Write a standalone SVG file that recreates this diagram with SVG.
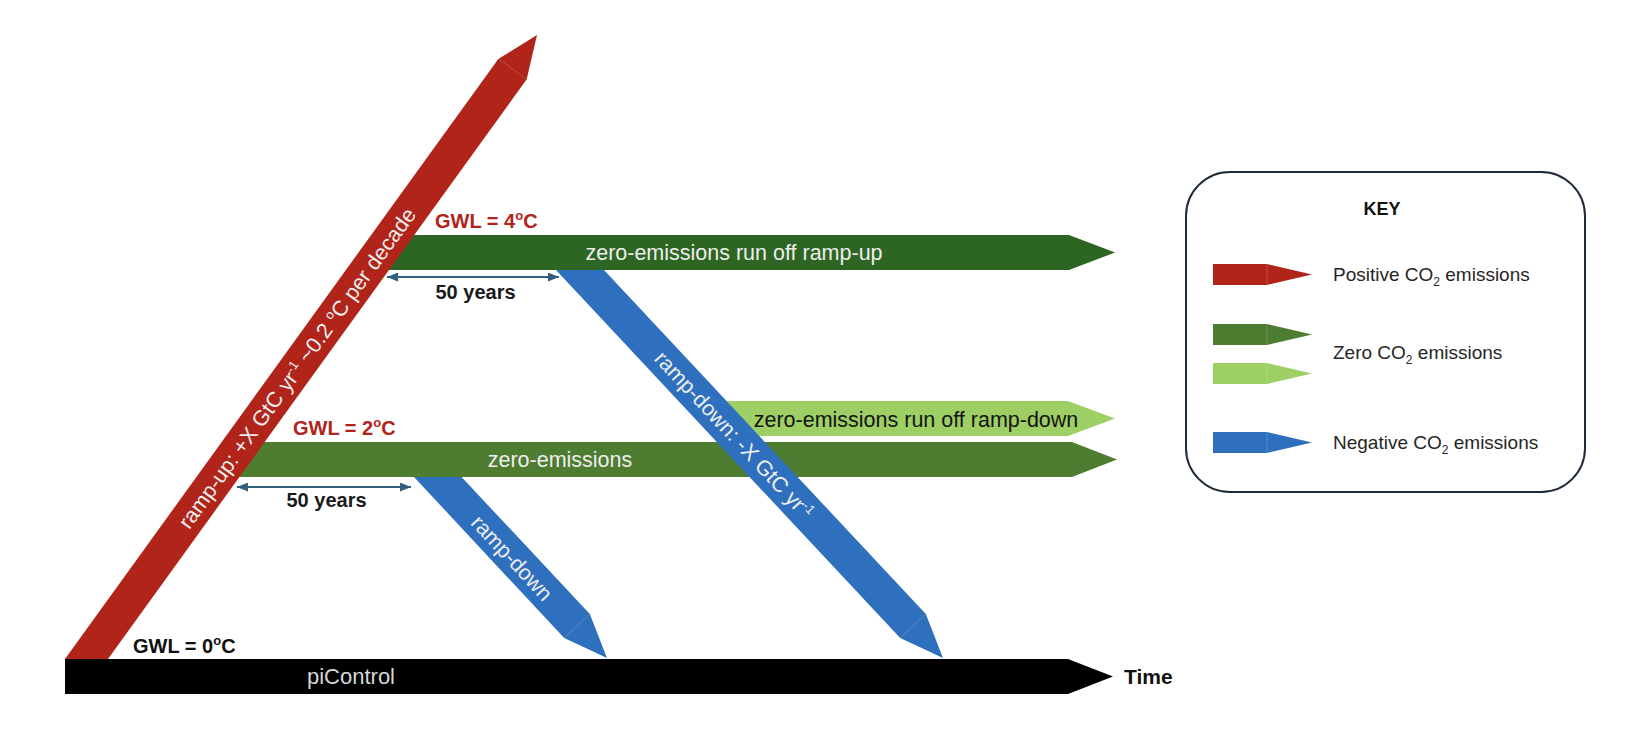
<svg xmlns="http://www.w3.org/2000/svg" width="1632" height="734" viewBox="0 0 1632 734">
<defs>
<style>
text{font-family:"Liberation Sans",Arial,sans-serif;}
.bar{font-size:21.5px;fill:#EDEDED;}
.gwl{font-size:20px;font-weight:bold;}
.red{fill:#B0241A;}
.yrs{font-size:20px;font-weight:bold;fill:#1A1A1A;}
.key{font-size:19px;fill:#262626;}
.seam{stroke:#FFFFFF;stroke-opacity:0.18;stroke-width:1;}
.dim{stroke:#31607F;stroke-width:2;fill:none;marker-start:url(#ah);marker-end:url(#ah);}
</style>
<marker id="ah" markerUnits="userSpaceOnUse" markerWidth="11" markerHeight="9" refX="11" refY="4.5" orient="auto-start-reverse">
<path d="M0,0 L11,4.5 L0,9 z" fill="#31607F"/>
</marker>
</defs>
<rect width="1632" height="734" fill="#FFFFFF"/>

<g id="piControl">
<polygon points="65,659 1068,659 1113,676.5 1068,694 65,694" fill="#000000"/>
<text class="bar" x="351" y="684" text-anchor="middle" style="fill:#D6D6D6;font-size:22px">piControl</text>
</g>

<g id="ramp-down-short">
<polygon points="407.5,470 455,470 589.8,614 607,658 564.2,638" fill="#2F70BE"/>
<line class="seam" x1="564.2" y1="638" x2="589.8" y2="614"/>
<text class="bar" transform="translate(512,558) rotate(46.9)" x="0" y="7.5" text-anchor="middle">ramp-down</text>
</g>

<g id="zero-runoff-rampdown">
<polygon points="700,401 1068,401 1115,418.5 1068,436 733,436" fill="#9DCF64"/>
<text class="bar" x="916" y="427" text-anchor="middle" style="fill:#141414">zero-emissions run off ramp-down</text>
</g>

<g id="zero-emissions">
<polygon points="230,442 1072,442 1117,459.5 1072,477 230,477" fill="#4E7C31"/>
<text class="bar" x="560" y="467" text-anchor="middle">zero-emissions</text>
</g>

<g id="ramp-down-long">
<polygon points="548.5,262 596.5,262 925.8,614 943,658 900.2,638" fill="#2F70BE"/>
<line class="seam" x1="900.2" y1="638" x2="925.8" y2="614"/>
<text class="bar" transform="translate(734,435) rotate(46.9)" x="0" y="7.5" text-anchor="middle">ramp-down: -X GtC yr<tspan font-size="13" dy="-8">-1</tspan></text>
</g>

<g id="zero-runoff-rampup">
<polygon points="380,235 1069,235 1115,252.5 1069,270 380,270" fill="#2D6522"/>
<text class="bar" x="734" y="259.5" text-anchor="middle">zero-emissions run off ramp-up</text>
</g>

<g id="ramp-up">
<polygon points="65,659 498.3,58.9 537,35 526.7,79.3 108,659" fill="#B0241A"/>
<line class="seam" x1="498.3" y1="58.9" x2="526.7" y2="79.3"/>
<text class="bar" transform="translate(297,368) rotate(-54.2)" x="0" y="7.5" text-anchor="middle">ramp-up: +X GtC yr<tspan font-size="13" dy="-8">-1</tspan><tspan dy="8"> ~0.2 </tspan><tspan font-size="13" dy="-8">o</tspan><tspan dy="8">C per decade</tspan></text>
</g>

<g id="labels">
<text class="gwl red" x="435" y="228">GWL = 4<tspan font-size="13" dy="-8">o</tspan><tspan dy="8">C</tspan></text>
<text class="gwl red" x="293" y="435">GWL = 2<tspan font-size="13" dy="-8">o</tspan><tspan dy="8">C</tspan></text>
<text class="gwl" x="133" y="653" fill="#111111">GWL = 0<tspan font-size="13" dy="-8">o</tspan><tspan dy="8">C</tspan></text>
<text class="yrs" x="475.5" y="299" text-anchor="middle">50 years</text>
<text class="yrs" x="326.5" y="507" text-anchor="middle">50 years</text>
<text x="1124" y="684" style="font-size:21px;font-weight:bold;fill:#111111">Time</text>
</g>

<g id="connectors">
<line class="dim" x1="387" y1="277" x2="559" y2="277"/>
<line class="dim" x1="237" y1="487" x2="411" y2="487"/>
</g>

<g id="key">
<rect x="1186" y="172" width="399" height="320" rx="44" ry="44" fill="#FFFFFF" stroke="#1E2B3A" stroke-width="2"/>
<text x="1382" y="215" text-anchor="middle" style="font-size:18px;font-weight:bold;fill:#111111">KEY</text>
<polygon points="1213,264 1267,264 1312,274.5 1267,285 1213,285" fill="#B0241A"/>
<line class="seam" x1="1267" y1="264" x2="1267" y2="285"/>
<polygon points="1213,324 1267,324 1312,334.5 1267,345 1213,345" fill="#4E7C31"/>
<line class="seam" x1="1267" y1="324" x2="1267" y2="345"/>
<polygon points="1213,363 1267,363 1312,373.5 1267,384 1213,384" fill="#9DCF64"/>
<line class="seam" x1="1267" y1="363" x2="1267" y2="384"/>
<polygon points="1213,432 1267,432 1312,442.5 1267,453 1213,453" fill="#2F70BE"/>
<line class="seam" x1="1267" y1="432" x2="1267" y2="453"/>
<text class="key" x="1333" y="281">Positive CO<tspan font-size="12" dy="5">2</tspan><tspan dy="-5"> emissions</tspan></text>
<text class="key" x="1333" y="359">Zero CO<tspan font-size="12" dy="5">2</tspan><tspan dy="-5"> emissions</tspan></text>
<text class="key" x="1333" y="449">Negative CO<tspan font-size="12" dy="5">2</tspan><tspan dy="-5"> emissions</tspan></text>
</g>
</svg>
